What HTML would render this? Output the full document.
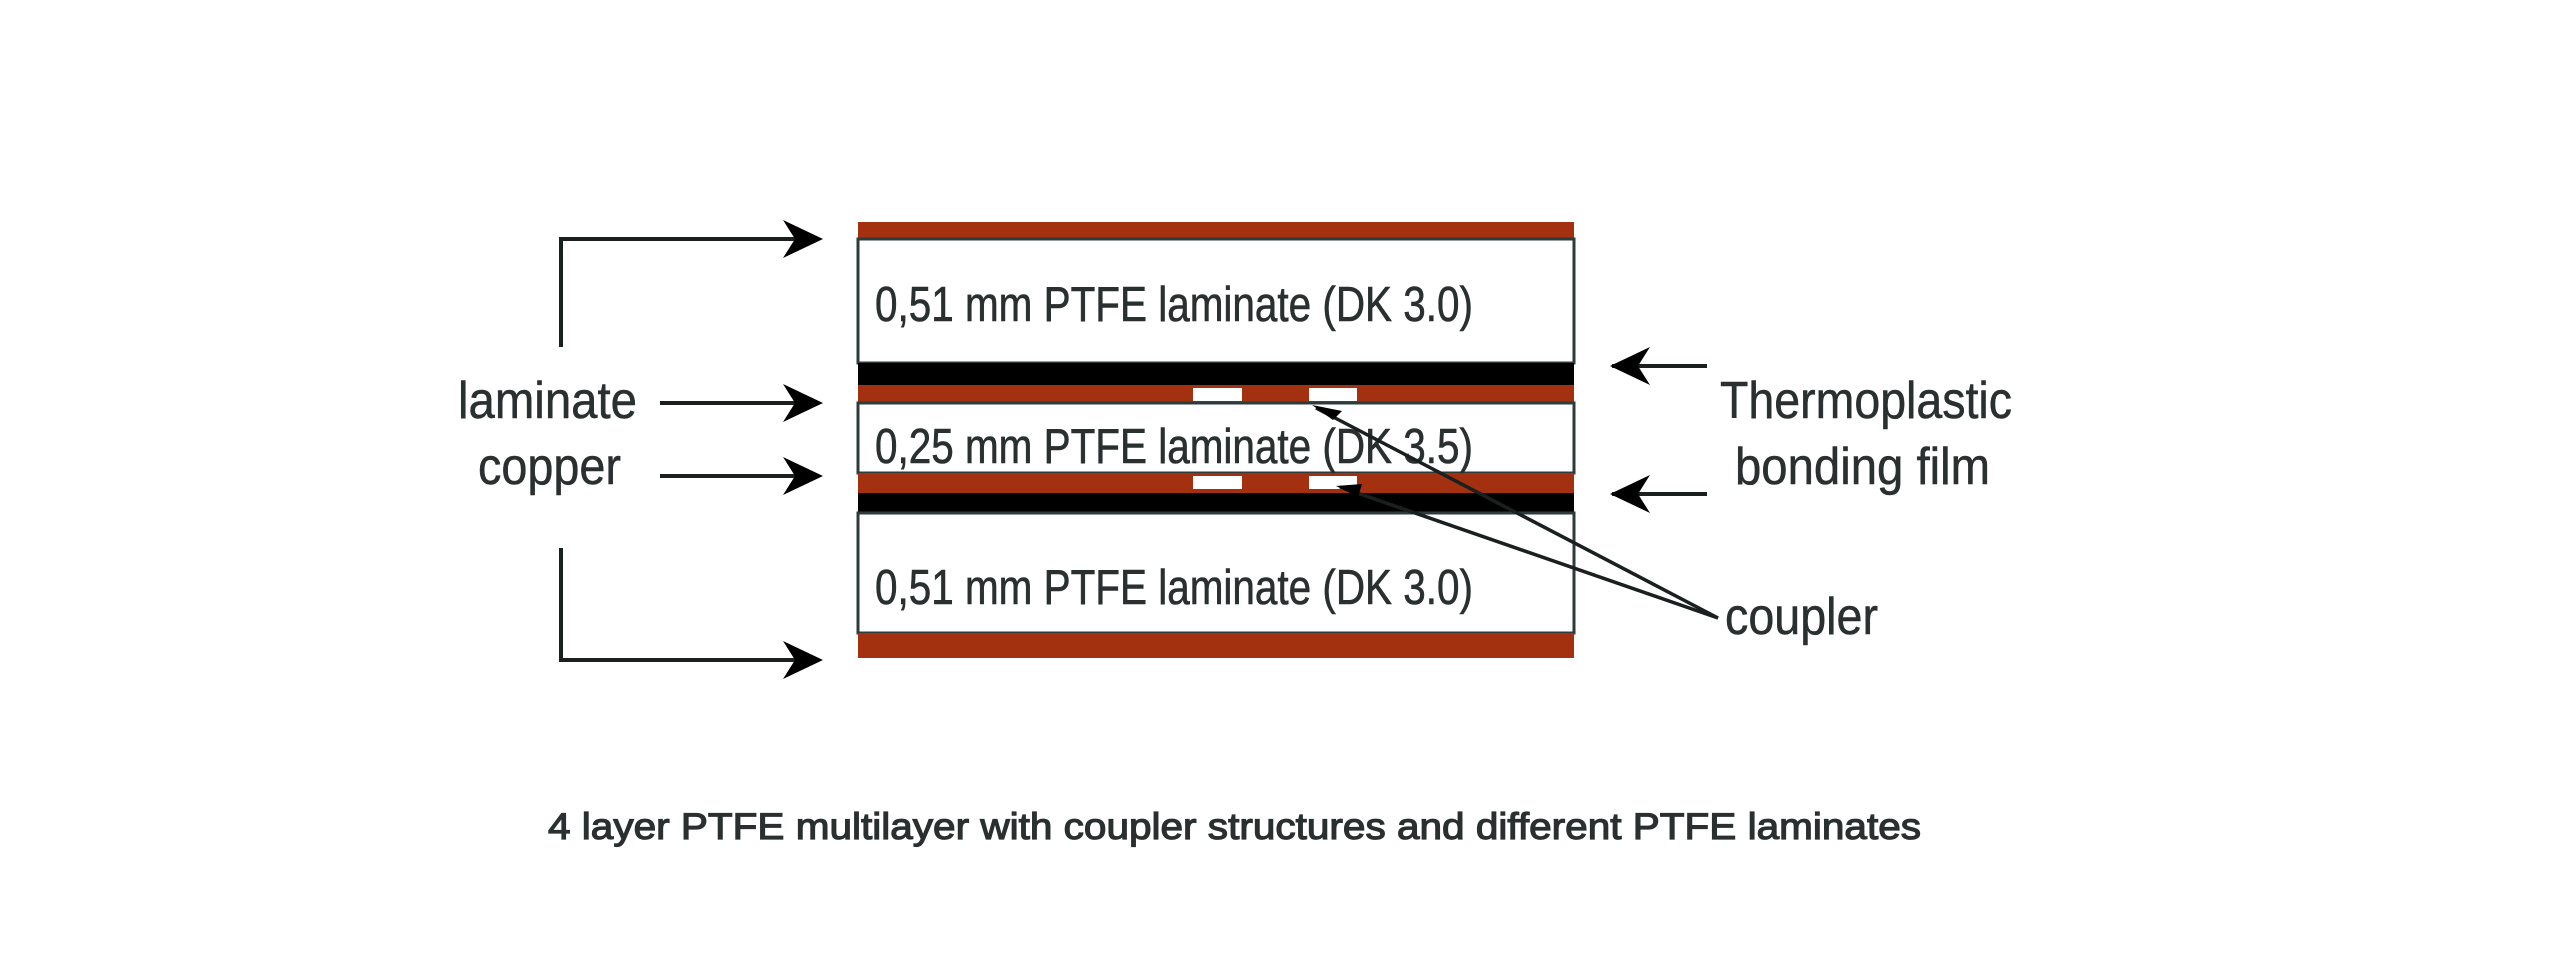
<!DOCTYPE html>
<html><head><meta charset="utf-8"><style>
html,body{margin:0;padding:0;background:#fff;}
svg{display:block;}
text{font-family:"Liberation Sans",Arial,sans-serif;fill:#2a2f2f;}
</style></head><body>
<svg width="2560" height="972" viewBox="0 0 2560 972" xmlns="http://www.w3.org/2000/svg">
<rect width="2560" height="972" fill="#fff"/>
<!-- board -->
<rect x="858" y="222" width="716" height="17" fill="#a3300f"/>
<rect x="858" y="239" width="716" height="124" fill="#fff" stroke="#2f3a3a" stroke-width="3"/>
<rect x="858" y="363" width="716" height="22" fill="#000"/>
<rect x="858" y="385" width="716" height="18" fill="#a3300f"/>
<rect x="858" y="403" width="716" height="70" fill="#fff" stroke="#2f3a3a" stroke-width="3"/>
<rect x="858" y="473" width="716" height="20" fill="#a3300f"/>
<rect x="858" y="493" width="716" height="20" fill="#000"/>
<rect x="858" y="513" width="716" height="120" fill="#fff" stroke="#2f3a3a" stroke-width="3"/>
<rect x="858" y="633" width="716" height="25" fill="#a3300f"/>
<!-- gaps -->
<rect x="1193" y="388" width="49" height="13" fill="#fff"/>
<rect x="1309" y="388" width="48" height="13" fill="#fff"/>
<rect x="1193" y="476" width="49" height="13" fill="#fff"/>
<rect x="1309" y="476" width="48" height="13" fill="#fff"/>
<!-- laminate texts -->
<text x="875" y="321" font-size="49" stroke="#2a2f2f" stroke-width="0.6" textLength="598" lengthAdjust="spacingAndGlyphs">0,51 mm PTFE laminate (DK 3.0)</text>
<text x="875" y="463" font-size="49" stroke="#2a2f2f" stroke-width="0.6" textLength="598" lengthAdjust="spacingAndGlyphs">0,25 mm PTFE laminate (DK 3.5)</text>
<text x="875" y="604" font-size="49" stroke="#2a2f2f" stroke-width="0.6" textLength="598" lengthAdjust="spacingAndGlyphs">0,51 mm PTFE laminate (DK 3.0)</text>
<!-- arrows -->
<g stroke="#1a1f1f" stroke-width="4" fill="none">
<polyline points="561,347 561,239 795,239"/>
<polyline points="561,548 561,660 795,660"/>
<line x1="660" y1="403" x2="795" y2="403"/>
<line x1="660" y1="476" x2="795" y2="476"/>
<line x1="1612" y1="366" x2="1707" y2="366"/>
<line x1="1612" y1="494" x2="1707" y2="494"/>
</g>
<g fill="#000">
<polygon points="823,239 783,220 795,239 783,258"/>
<polygon points="823,660 783,641 795,660 783,679"/>
<polygon points="823,403 783,384 795,403 783,422"/>
<polygon points="823,476 783,457 795,476 783,495"/>
<polygon points="1610,366 1650,347 1638,366 1650,385"/>
<polygon points="1610,494 1650,475 1638,494 1650,513"/>
</g>
<!-- coupler lines -->
<g stroke="#1a1f1f" stroke-width="3.5" fill="none">
<line x1="1718" y1="618" x2="1316" y2="408"/>
<line x1="1718" y1="618" x2="1340" y2="487"/>
</g>
<g fill="#000">
<polygon points="1312,405 1342,411 1333,420"/>
<polygon points="1336,486 1362,484 1358,497"/>
</g>
<text x="458" y="418" font-size="52" stroke="#2a2f2f" stroke-width="0.5" textLength="179" lengthAdjust="spacingAndGlyphs">laminate</text>
<text x="478" y="484" font-size="52" stroke="#2a2f2f" stroke-width="0.5" textLength="143" lengthAdjust="spacingAndGlyphs">copper</text>
<text x="1720" y="418" font-size="52" stroke="#2a2f2f" stroke-width="0.5" textLength="292" lengthAdjust="spacingAndGlyphs">Thermoplastic</text>
<text x="1735" y="484" font-size="52" stroke="#2a2f2f" stroke-width="0.5" textLength="255" lengthAdjust="spacingAndGlyphs">bonding film</text>
<text x="1725" y="634" font-size="52" stroke="#2a2f2f" stroke-width="0.5" textLength="153" lengthAdjust="spacingAndGlyphs">coupler</text>
<text x="548" y="839" font-size="37" stroke="#2a2f2f" stroke-width="1.2" textLength="1373" lengthAdjust="spacingAndGlyphs">4 layer PTFE multilayer with coupler structures and different PTFE laminates</text>
</svg>
</body></html>
